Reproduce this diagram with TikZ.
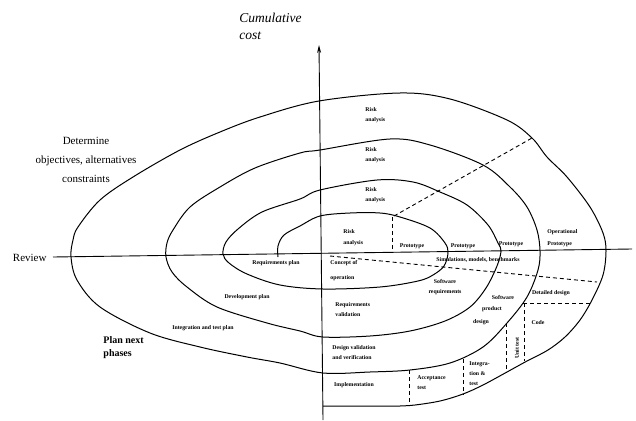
\documentclass[tikz,border=0pt]{standalone}
\usepackage{fontspec}
\setmainfont{Liberation Serif}
\usetikzlibrary{arrows.meta}
\begin{document}
\begin{tikzpicture}[x=1pt,y=-1pt,line width=0.9pt,
  sm/.style={font=\fontsize{5.8}{10}\selectfont\bfseries,inner sep=0pt,align=left},
  spiralline/.style={line width=1pt},
  dsh/.style={dash pattern=on 4pt off 3pt,line width=0.9pt}]
\useasboundingbox (0,0) rectangle (636,420);
% axes
\coordinate (hL) at (53,257);
\coordinate (hR) at (632,249);
\coordinate (vB) at (323,420);
\coordinate (vT) at (319,45);
\draw (hL) -- (hR);
\draw[-{Stealth[length=8pt,width=4pt]}] (vB) -- (vT);
% spiral
\draw[spiralline] plot[smooth,tension=0.55] coordinates {
(278,257) (278,246) (284,235) (300,226) (320,216) (350,213) (380,213) (400,217) (430,228) (445,243) (448,253)
(444,266) (433,275) (418,281) (380,287) (323,289) (280,285) (247,274) (229,263) (223,254)
(226,242) (238,229) (262,212) (300,199) (320,190) (377,180) (413,182) (440,192) (467,205) (488,225) (498,243) (501,251)
(497,266) (486,288) (470,307) (445,321) (410,331) (370,336) (323,337) (300,331) (267,323) (217,307) (187,287) (172,272) (166,257)
(167,243) (173,230) (190,207) (220,187) (255,168) (300,153) (320,150) (390,139) (430,145) (483,165) (510,187) (527,207) (537,230) (540,251)
(538,270) (527,297) (507,323) (483,347) (450,363) (410,370) (370,372) (323,373) (280,363) (247,357) (200,347) (150,333) (100,307) (77,280) (71,257)
(73,240) (78,227) (100,200) (133,177) (180,150) (220,132) (260,117) (319,101) (400,93) (450,99) (507,120) (532,138) (547,157) (567,177) (590,207) (603,233) (606,251)
(603,275) (592,300) (580,320) (565,337) (548,350) (527,361) (507,372) (483,385) (463,394) (440,401) (415,405) (400,406)
} -- (323,406);
% dashed lines
\coordinate (a1) at (392,217); \coordinate (a2) at (392,253);
\coordinate (b1) at (394,216); \coordinate (b2) at (532,138);
\coordinate (c1) at (330,256); \coordinate (c2) at (597,282);
\coordinate (e1) at (523,303); \coordinate (e2) at (590,303);
\coordinate (f1) at (524,303); \coordinate (f2) at (524,361);
\coordinate (g1) at (506,323); \coordinate (g2) at (506,373);
\coordinate (h1) at (463,359); \coordinate (h2) at (463,395);
\coordinate (i1) at (409,370); \coordinate (i2) at (409,405);
\draw[dsh] (a1) -- (a2);
\draw[dsh] (b1) -- (b2);
\draw[dsh] (c1) -- (c2);
\draw[dsh] (e1) -- (e2);
\draw[dsh] (f1) -- (f2);
\draw[dsh] (g1) -- (g2);
\draw[dsh] (h1) -- (h2);
\draw[dsh] (i1) -- (i2);
% big labels
\node[font=\fontsize{13.5}{17}\selectfont\itshape,align=left,anchor=west,inner sep=0pt] (cc) at (239,26.5) {Cumulative\\cost};
\node[font=\fontsize{11}{13}\selectfont,anchor=east,inner sep=0pt] (rev) at (47,258) {Review};
\node[font=\fontsize{11}{19}\selectfont,align=center,inner sep=0pt] (det) at (86,160) {Determine\\objectives, alternatives\\constraints};
\node[font=\fontsize{10}{13}\selectfont\bfseries,align=left,anchor=west,inner sep=0pt] (pnp) at (103,347.5) {Plan next\\phases};
% small labels
\node[sm,anchor=west] (r1) at (365,115) {Risk\\analysis};
\node[sm,anchor=west] (r2) at (365,155.5) {Risk\\analysis};
\node[sm,anchor=west] (r3) at (365,195) {Risk\\analysis};
\node[sm,anchor=west,font=\fontsize{5.8}{11}\selectfont\bfseries] (r4) at (343,237.5) {Risk\\analysis};
\node[sm] (p1) at (412,246) {Prototype};
\node[sm] (p2) at (463,246) {Prototype};
\node[sm] (p3) at (511,244) {Prototype};
\node[sm,anchor=west,font=\fontsize{5.8}{12}\selectfont\bfseries] (p4) at (547,238) {Operational\\Prototype};
\node[sm,anchor=west,font=\fontsize{5.8}{15}\selectfont\bfseries] (co) at (330,270.5) {Concept of\\operation};
\node[sm] (sim) at (478,260) {Simulations, models, benchmarks};
\node[sm,align=center] (sr) at (445,287.5) {Software\\requirements};
\node[sm] (sp1) at (503,297) {Software};
\node[sm] (sp2) at (492,309.5) {product};
\node[sm] (sp3) at (481,322) {design};
\node[sm] (dd) at (551,293) {Detailed design};
\node[sm] (code) at (538,323) {Code};
\node[sm,rotate=90] (ut) at (517,348) {Unit test};
\node[sm,anchor=west] (it) at (469,373.5) {Integra-\\tion \&\\test};
\node[sm,anchor=west] (at) at (417,383) {Acceptance\\test};
\node[sm] (impl) at (354,385) {Implementation};
\node[sm,anchor=west] (dv) at (332,353) {Design validation\\and verification};
\node[sm,anchor=west] (rv) at (335,310) {Requirements\\validation};
\node[sm] (rp) at (276,263) {Requirements plan};
\node[sm] (dp) at (247,297.5) {Development plan};
\node[sm] (itp) at (203,328) {Integration and test plan};
\end{tikzpicture}
\end{document}
